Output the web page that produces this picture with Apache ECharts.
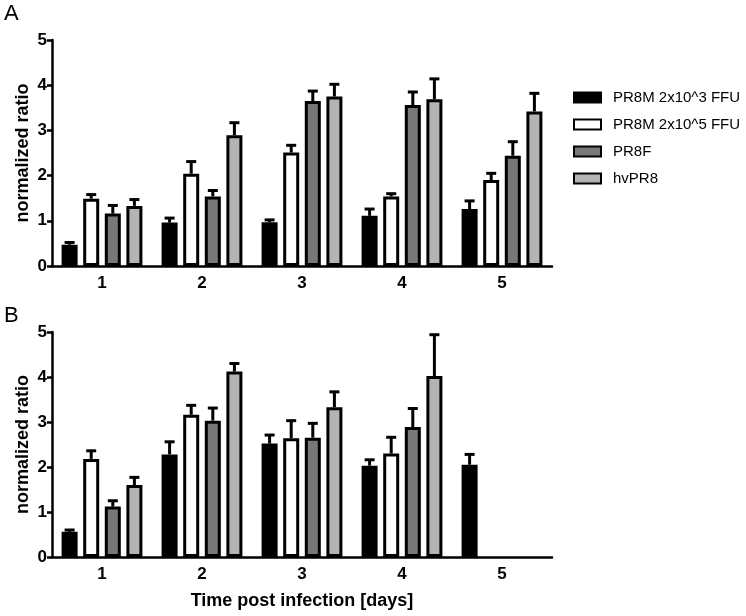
<!DOCTYPE html>
<html>
<head>
<meta charset="utf-8">
<script src="https://cdn.jsdelivr.net/npm/echarts@6/dist/echarts.min.js"></script>
<style>html,body{margin:0;padding:0;background:#fff;}#main{width:746px;height:616px;}</style>
</head>
<body>
<div id="main"></div>
<script>
// ---- data ----
const categories = ['1', '2', '3', '4', '5'];
const seriesNames = ['PR8M 2x10^3 FFU', 'PR8M 2x10^5 FFU', 'PR8F', 'hvPR8'];
const yTicks = [0, 1, 2, 3, 4, 5];

// Panel A: means
const aLow = [0.47, 0.96, 0.97, 1.11, 1.26];
const aHigh = [1.49, 2.04, 2.51, 1.54, 1.90];
const aPR8F = [1.16, 1.54, 3.65, 3.56, 2.44];
const aHv = [1.33, 2.89, 3.75, 3.69, 3.42];
// Panel A: SEM (upper error)
const aLowErr = [0.05, 0.10, 0.05, 0.15, 0.18];
const aHighErr = [0.09, 0.27, 0.16, 0.06, 0.15];
const aPR8FErr = [0.18, 0.13, 0.22, 0.29, 0.31];
const aHvErr = [0.14, 0.28, 0.27, 0.45, 0.40];

// Panel B: means
const bLow = [0.56, 2.28, 2.52, 2.03, 2.05];
const bHigh = [2.18, 3.16, 2.64, 2.30, null];
const bPR8F = [1.12, 3.03, 2.65, 2.89, null];
const bHv = [1.60, 4.12, 3.33, 4.02, null];
// Panel B: SEM (upper error)
const bLowErr = [0.04, 0.28, 0.19, 0.13, 0.23];
const bHighErr = [0.18, 0.21, 0.39, 0.36, null];
const bPR8FErr = [0.13, 0.28, 0.32, 0.41, null];
const bHvErr = [0.17, 0.18, 0.34, 0.92, null];

// ---- styling ----
const FONT = '"Liberation Sans", Arial, Helvetica, sans-serif';
const colors = ['#000000', '#ffffff', '#787878', '#b4b4b4'];
const BAR_W = 16;
const BAR_GAP = 0.35;

const panels = [
  { means: [aLow, aHigh, aPR8F, aHv], errs: [aLowErr, aHighErr, aPR8FErr, aHvErr] },
  { means: [bLow, bHigh, bPR8F, bHv], errs: [bLowErr, bHighErr, bPR8FErr, bHvErr] }
];

function makeXAxis(g) {
  const ax = {
    type: 'category', gridIndex: g, data: categories,
    axisLine: { lineStyle: { color: '#000', width: 2.5 } },
    axisTick: { alignWithLabel: true, length: 6, lineStyle: { color: '#000', width: 2.5 } },
    axisLabel: { color: '#000', fontSize: 17, fontWeight: 'bold', fontFamily: FONT, margin: 9 }
  };
  if (g === 1) {
    ax.name = 'Time post infection [days]';
    ax.nameLocation = 'middle';
    ax.nameGap = 35;
    ax.nameTextStyle = { color: '#000', fontSize: 18, fontWeight: 'bold', fontFamily: FONT };
  }
  return ax;
}
function makeYAxis(g) {
  return {
    type: 'value', gridIndex: g, min: yTicks[0], max: yTicks[yTicks.length - 1], interval: 1,
    axisLine: { show: true, lineStyle: { color: '#000', width: 2.5 } },
    axisTick: { show: true, length: 5, lineStyle: { color: '#000', width: 2.5 } },
    splitLine: { show: false },
    axisLabel: { color: '#000', fontSize: 17, fontWeight: 'bold', fontFamily: FONT, margin: 5 },
    name: 'normalized ratio', nameLocation: 'middle', nameGap: 20, nameRotate: 90,
    nameMoveOverlap: false,
    nameTextStyle: { color: '#000', fontSize: 18, fontWeight: 'bold', fontFamily: FONT }
  };
}

const series = [];
panels.forEach((p, g) => {
  p.means.forEach((m, s) => {
    series.push({
      type: 'bar', name: seriesNames[s], xAxisIndex: g, yAxisIndex: g,
      data: m, barWidth: BAR_W, barGap: (BAR_GAP * 100) + '%',
      itemStyle: { color: colors[s], borderColor: '#000', borderWidth: 3 },
      emphasis: { disabled: true }, z: 2
    });
  });
  p.means.forEach((m, s) => {
    const data = [];
    m.forEach((v, i) => { if (v != null) data.push([i, v, v + p.errs[s][i]]); });
    series.push({
      type: 'custom', name: 'err_' + g + '_' + s, xAxisIndex: g, yAxisIndex: g, z: 3,
      data: data,
      renderItem: function (params, api) {
        const c = api.coord([api.value(0), api.value(1)]);
        const t = api.coord([api.value(0), api.value(2)]);
        const off = (s - 1.5) * BAR_W * (1 + BAR_GAP);
        const x = c[0] + off;
        return {
          type: 'group', children: [
            { type: 'line', shape: { x1: x, y1: c[1], x2: x, y2: t[1] }, style: { stroke: '#000', lineWidth: 3 } },
            { type: 'line', shape: { x1: x - 5, y1: t[1], x2: x + 5, y2: t[1] }, style: { stroke: '#000', lineWidth: 3 } }
          ]
        };
      }
    });
  });
});

const chart = echarts.init(document.getElementById('main'), null, { renderer: 'canvas' });
chart.setOption({
  animation: false,
  backgroundColor: '#fff',
  grid: [
    { left: 52, width: 500, top: 40, height: 226 },
    { left: 52, width: 500, top: 332, height: 225 }
  ],
  xAxis: [makeXAxis(0), makeXAxis(1)],
  yAxis: [makeYAxis(0), makeYAxis(1)],
  legend: {
    data: seriesNames, orient: 'vertical', left: 573, top: 90, padding: 0,
    icon: 'rect', itemWidth: 27, itemHeight: 10, itemGap: 12,
    textStyle: { color: '#000', fontSize: 15, fontFamily: FONT, padding: [0, 0, 0, 7] },
    selectedMode: false
  },
  graphic: [
    { type: 'text', left: 4, top: 3, style: { text: 'A', font: '22px "Liberation Sans", Arial, sans-serif', fill: '#000' } },
    { type: 'text', left: 4, top: 305, style: { text: 'B', font: '22px "Liberation Sans", Arial, sans-serif', fill: '#000' } }
  ],
  series: series
});
</script>
</body>
</html>
